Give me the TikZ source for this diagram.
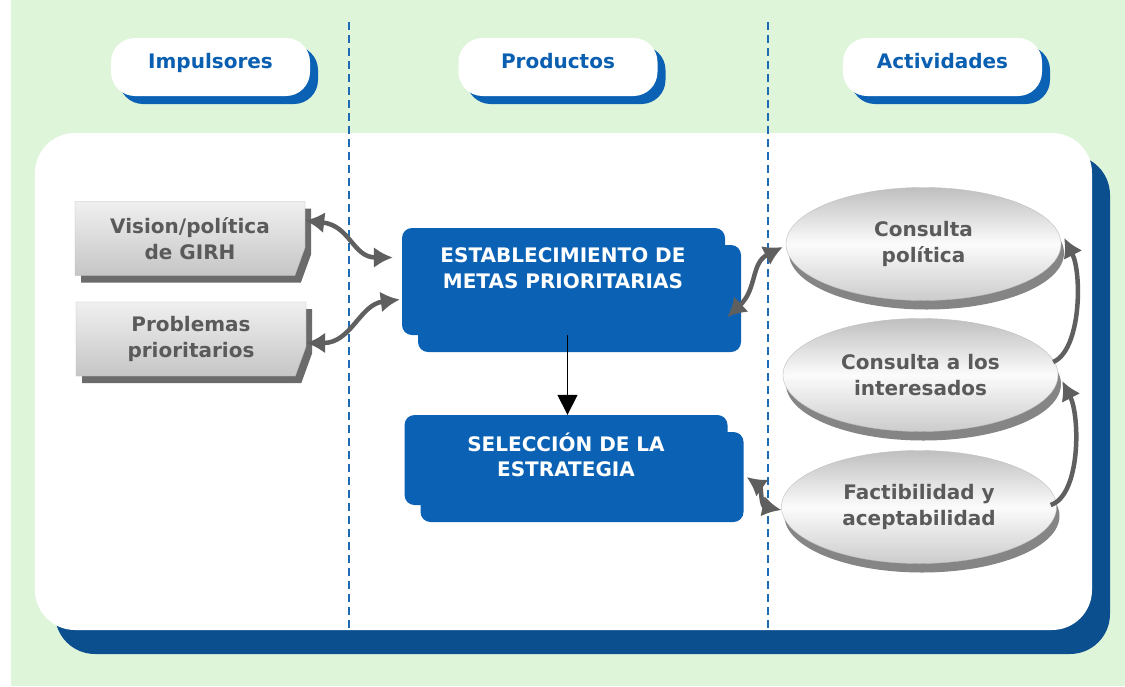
\documentclass[tikz,border=0pt]{standalone}
\usepackage{fontspec}
\setmainfont{DejaVu Sans}
\usetikzlibrary{shapes.geometric,shapes.misc,shadows,arrows.meta}

\definecolor{fondo}{HTML}{DFF5DA}
\definecolor{azulbox}{HTML}{0B62B5}
\definecolor{azultxt}{HTML}{0B5FB0}
\definecolor{panelazul}{HTML}{0B4F8F}
\definecolor{guia}{HTML}{1F6AB5}
\definecolor{gristxt}{HTML}{5A5A5A}
\definecolor{flecha}{HTML}{5F5F5F}
\definecolor{sombradoc}{HTML}{6B6B6B}
\definecolor{sombraovalo}{HTML}{858585}

\newcommand\rotulo{\bfseries\fontsize{20}{25.5}\selectfont}

\begin{document}
\begin{tikzpicture}[x=1pt,y=-1pt,
  pill/.style={rectangle, rounded corners=24pt, fill=white, minimum width=199pt,
    minimum height=58pt, text depth=12pt, text=azultxt, font=\rotulo,
    drop shadow={shadow xshift=8pt, shadow yshift=-8pt, fill=azulbox, opacity=1}},
  docbox/.style={chamfered rectangle, chamfered rectangle corners=south east,
    chamfered rectangle angle=20, chamfered rectangle xsep=28pt,
    minimum width=230pt, minimum height=74pt, top color=gray!12, bottom color=gray!45,
    draw=gray!55, text=gristxt, font=\rotulo, align=center,
    drop shadow={shadow xshift=6pt, shadow yshift=-7pt, fill=sombradoc, opacity=1}},
  metabox/.style={rectangle, rounded corners=10pt, fill=azulbox, minimum width=323pt,
    minimum height=107pt,
    drop shadow={shadow xshift=16pt, shadow yshift=-17pt, fill=azulbox, opacity=1}},
  metatxt/.style={text=white, font=\rotulo, align=center},
  consulta/.style={ellipse, minimum width=275pt, minimum height=113pt,
    top color=gray!50, bottom color=gray!40, middle color=gray!3, draw=gray!50,
    text=gristxt, font=\rotulo, align=center,
    drop shadow={shadow xshift=3pt, shadow yshift=-9pt, fill=sombraovalo, opacity=1}},
  guide/.style={guia, line width=1.4pt, dash pattern=on 8pt off 5pt},
  enlace/.style={draw=flecha, line width=4.5pt,
    {Latex[length=19pt,width=21pt]}-{Latex[length=19pt,width=21pt]}},
  sube/.style={draw=flecha, line width=4.5pt, -{Latex[length=19pt,width=21pt]}},
  bajada/.style={draw=black, line width=1.5pt, -{Triangle[length=20pt,width=20pt]}}]

\useasboundingbox (0,0) rectangle (1125,686);
\fill[white] (0,0) rectangle (11,686);
\fill[fondo] (11,0) rectangle (1125,686);

% panel
\fill[panelazul, rounded corners=40pt] (55,155) rectangle (1110,654);
\fill[white, rounded corners=40pt] (35,133) rectangle (1092,630);

\draw[guide] (349,22) -- (349,630);
\draw[guide] (768,22) -- (768,630);

% headers
\node[pill] (impulsores) at (210.5,67) {Impulsores};
\node[pill] (productos) at (558,67) {Productos};
\node[pill] (actividades) at (942.5,67) {Actividades};

% impulsores
\node[docbox] (vision) at (190,238.5) {Vision/política\\de GIRH};
\node[docbox] (problemas) at (191,339) {Problemas\\prioritarios};

% productos
\node[metabox] (metas) at (563.5,281.5) {};
\node[metatxt] (metastxt) at (563,268) {ESTABLECIMIENTO DE\\METAS PRIORITARIAS};
\node[metabox, minimum height=90pt] (estrategia) at (566,460) {};
\node[metatxt] (estrategiatxt) at (566,455) {SELECCIÓN DE LA\\ESTRATEGIA};

% actividades
\node[consulta] (politica) at (923.5,244) {Consulta\\política};
\node[consulta] (interesados) at (920.5,375) {Consulta a los\\interesados};
\node[consulta] (factibilidad) at (919,507) {Factibilidad y\\aceptabilidad};

% enlaces
\draw[enlace] ([yshift=18pt]vision.east) .. controls +(45,5) and +(-40,0) .. ([xshift=-9pt,yshift=24pt]metas.west);
\draw[enlace] ([yshift=-4pt]problemas.east) .. controls +(45,0) and +(-40,5) .. ([xshift=-2pt,yshift=-18pt]metas.west);
\draw[enlace] ([xshift=2pt,yshift=18pt]metas.south east) .. controls +(30,-28) and +(-32,16) .. ([xshift=-3pt,yshift=-3pt]politica.west);
\draw[enlace] ([xshift=19pt,yshift=-17pt]estrategia.east) .. controls +(14,10) and +(-20,-4) .. ([yshift=-3pt]factibilidad.west);
\draw[sube] ([xshift=-5pt,yshift=13pt]interesados.east) .. controls +(28,-12) and +(18,35) .. ([xshift=3pt,yshift=6pt]politica.east);
\draw[sube] ([xshift=-6pt,yshift=2pt]factibilidad.east) .. controls +(30,-10) and +(18,35) .. ([xshift=4pt,yshift=-6pt]interesados.east);
\draw[bajada] ([xshift=4pt]metas.south) -- ([xshift=4pt]metas.south |- estrategia.north);
\end{tikzpicture}
\end{document}
